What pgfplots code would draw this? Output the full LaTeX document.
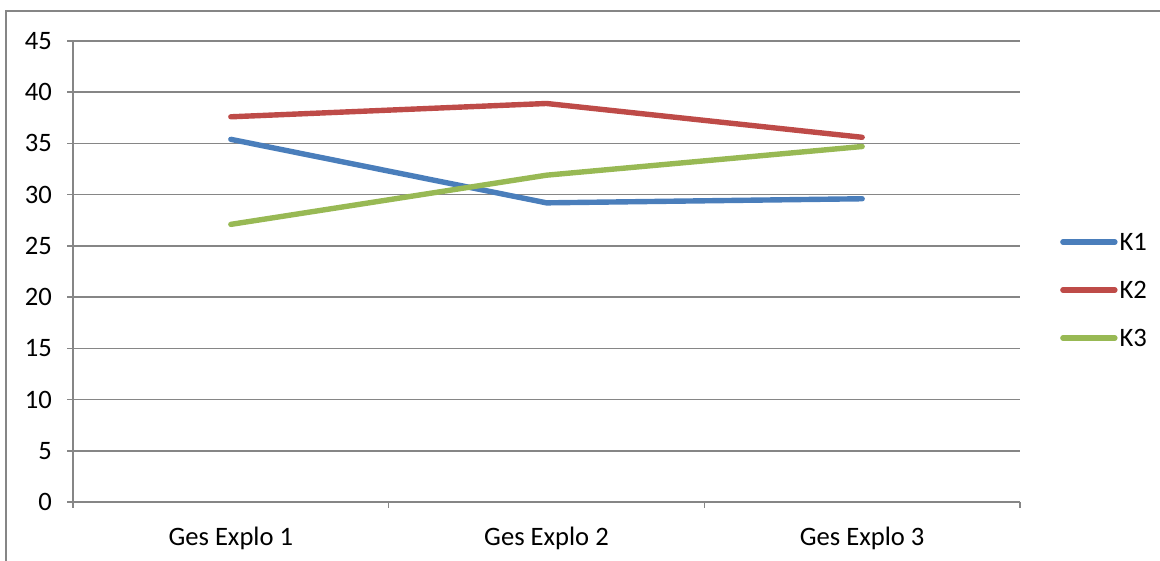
\documentclass[border=0pt]{standalone}
\usepackage{fontspec}
\setmainfont{Carlito}
\usepackage{pgfplots}
\pgfplotsset{compat=1.18}
\definecolor{gridgray}{HTML}{868686}
\definecolor{kblue}{HTML}{4A7EBB}
\definecolor{kred}{HTML}{BE4B48}
\definecolor{kgreen}{HTML}{98B954}
\begin{document}
\begin{tikzpicture}
\begin{axis}[
  at={(36.5pt,29.5pt)}, anchor=south west,
  scale only axis,
  width=473.5pt, height=230.5pt,
  xmin=0, xmax=3, ymin=0, ymax=45,
  axis x line=bottom, axis y line=left,
  axis line style={-, draw=gridgray, line width=0.8pt},
  xtick={0,1,2,3},
  xticklabels={},
  extra x ticks={0.5,1.5,2.5},
  extra x tick labels={Ges Explo 1, Ges Explo 2, Ges Explo 3},
  extra x tick style={major tick length=0pt, grid=none, tick style={draw=none},
    xticklabel style={yshift=-9pt}},
  ytick={0,5,...,45},
  major tick length=3pt,
  tick align=outside,
  tick style={draw=gridgray, line width=0.8pt},
  ymajorgrids,
  grid style={draw=gridgray, line width=0.8pt},
  ticklabel style={font=\fontsize{13.3}{15}\selectfont},
  /pgf/number format/assume math mode=true,
  yticklabel style={xshift=-4pt},
  legend style={draw=none, fill=none, at={(1.042,0.46)}, anchor=west, inner sep=0pt,
    font=\fontsize{13.3}{15}\selectfont,
    nodes={inner sep=1pt, text height=9pt, text depth=0pt},
    row sep=13pt},
  legend cell align=left,
  legend image code/.code={\draw[#1, line width=2.7pt, line cap=round] (0pt,0pt) -- (26pt,0pt);},
  every axis plot/.append style={line width=2.7pt, line cap=round, line join=round},
]
\addplot[kblue] coordinates {(0.5,35.4) (1.5,29.2) (2.5,29.6)};
\addlegendentry{K1}
\addplot[kred] coordinates {(0.5,37.6) (1.5,38.9) (2.5,35.6)};
\addlegendentry{K2}
\addplot[kgreen] coordinates {(0.5,27.1) (1.5,31.9) (2.5,34.7)};
\addlegendentry{K3}
\end{axis}
\draw[gridgray, line width=0.6pt] (3pt,0pt) -- (3pt,275pt) -- (580pt,275pt);
\pgfresetboundingbox
\path (0,0) rectangle (580pt,280.5pt);
\end{tikzpicture}
\end{document}
